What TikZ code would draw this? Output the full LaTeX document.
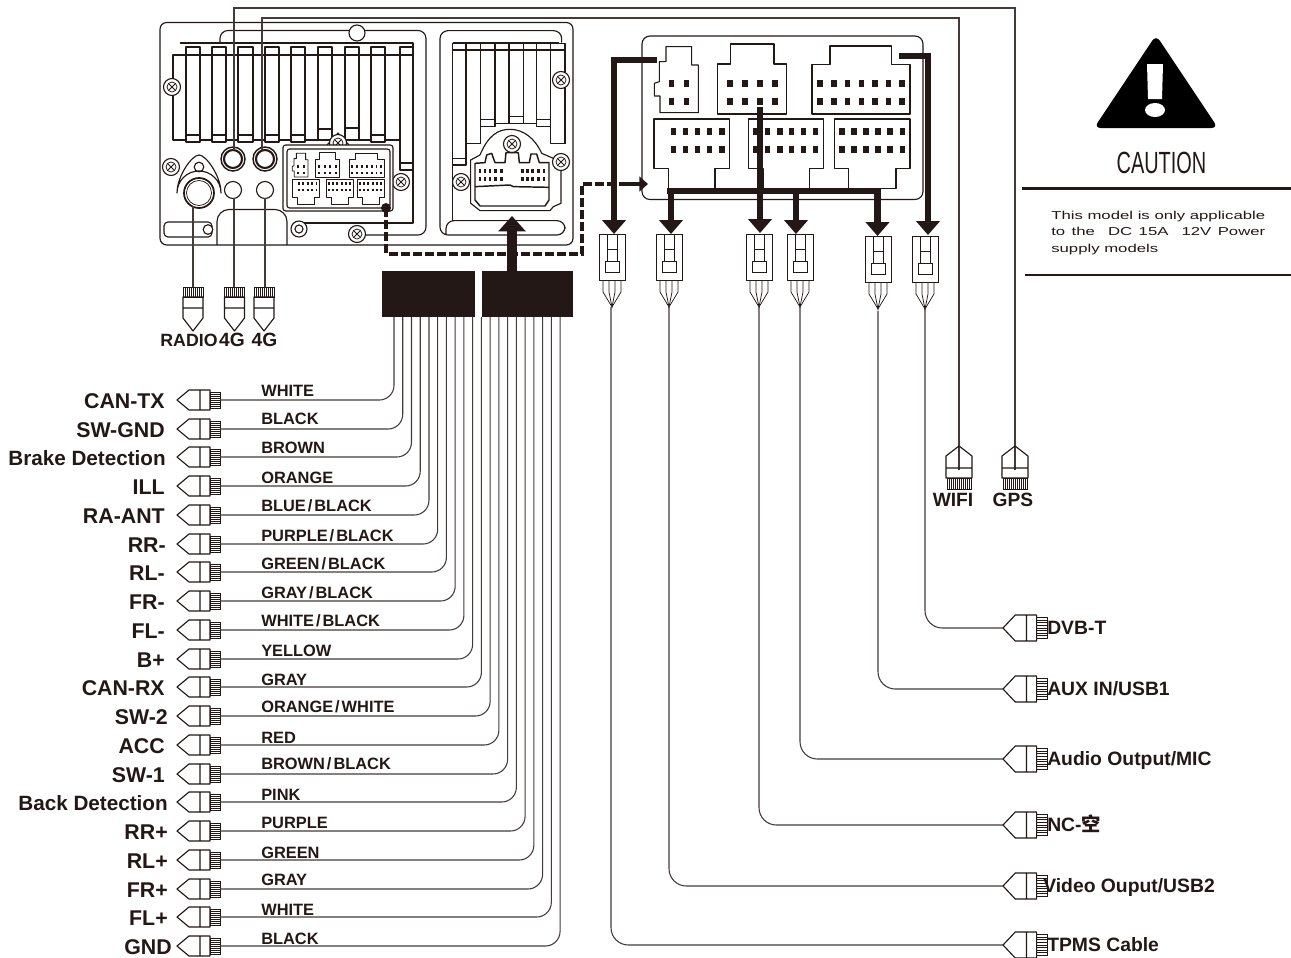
\documentclass[tikz,border=0pt]{standalone}
\usepackage{fontspec}
\setmainfont{Liberation Sans}
\newfontfamily\cjkfont{Noto Sans CJK SC}
\newfontfamily\widefont[FakeStretch=1.46]{Liberation Sans}
\usetikzlibrary{arrows.meta}
\definecolor{ink}{HTML}{231815}
\tikzset{
  part/.style={draw=ink,line width=0.85pt,line join=round},
  thinpart/.style={draw=ink,line width=0.55pt},
  wire/.style={draw=ink!85,line width=0.8pt,rounded corners=11pt},
  bigarrow/.style={draw=ink,line width=5.2pt,-{Triangle[length=10.5pt,width=17.5pt]}},
  dashwire/.style={draw=ink,line width=3pt,dash pattern=on 6.75pt off 2.25pt},
  colourlabel/.style={anchor=base west,inner sep=0pt,text=ink,font=\fontsize{12.3}{14}\selectfont\bfseries},
  pinlabel/.style={anchor=base east,inner sep=0pt,text=ink},
  outlabel/.style={anchor=base west,inner sep=0pt,text=ink,font=\fontsize{14.5}{16}\selectfont\bfseries},
  antlabel/.style={anchor=base,inner sep=0pt,text=ink,font=\fontsize{14.4}{16}\selectfont\bfseries},
}
\newcommand\tightwords[1]{{\spaceskip=.12em\relax #1}}
\newcommand\screw[2]{%
  \begin{scope}[shift={(#1,#2)}]
    \draw[part,fill=white] (0,0) circle (8.5);
    \draw[thinpart] (0,0) circle (5);
    \draw[thinpart] (-3.5,-3.5)--(3.5,3.5) (-3.5,3.5)--(3.5,-3.5);
  \end{scope}}
\newcommand\sideplug[4]{% tip x, y, xscale, yscale
  \begin{scope}[shift={(#1,#2)},xscale=#3,yscale=#4]
    \draw[part] (0,0)--(12,-10)--(33,-10)--(33,10)--(12,10)--cycle (23,-10)--(23,10);
    \draw[thinpart] (33,-8) rectangle (43,8);
    \foreach \t in {-6,-4,...,6} \draw[thinpart] (33,\t)--(43,\t);
  \end{scope}}
\newcommand\upplug[2]{% centre x, top y of teeth (points down)
  \begin{scope}[shift={(#1,#2)}]
    \draw[thinpart] (-10,0) rectangle (10,10);
    \foreach \t in {-8,-6,...,8} \draw[thinpart] (\t,0)--(\t,10);
    \draw[part] (-10,10)--(10,10)--(10,31)--(0,44)--(-10,31)--cycle (-10,21)--(10,21);
  \end{scope}}
\newcommand\downplug[2]{% centre x, tip y (points up)
  \begin{scope}[shift={(#1,#2)}]
    \draw[part] (0,0)--(13,10)--(13,32)--(-13,32)--(-13,10)--cycle (-13,22)--(13,22);
    \draw[thinpart] (-12,32) rectangle (12,43);
    \foreach \t in {-10,-8,...,10} \draw[thinpart] (\t,32)--(\t,43);
  \end{scope}}
\newcommand\harness[2]{% centre x, top y
  \begin{scope}[shift={(#1,#2)}]
    \draw[draw=ink,line width=0.75pt] (-13,0) rectangle (13,46);
    \draw[draw=ink,line width=0.75pt] (-5,0)--(-5,27) (5,0)--(5,27) (-5,15)--(5,15);
    \draw[draw=ink,line width=0.75pt] (-7,27) rectangle (7,38);
    \draw[thinpart] (-9,46)--(-9,58)--(0,73)--(9,58)--(9,46);
    \draw[thinpart] (-3,46)--(-3,58)--(0,73)--(3,58)--(3,46);
  \end{scope}}
\newcommand\connectorset{%
  \draw[part] (228,80)--(305,80)--(305,135)--(325,135)--(325,278)--(210,278)--(210,228)--(193,228)--(193,190)--(208,185)--(208,125)--(228,125)--cycle;
  \draw[part] (422,72)--(552,72)--(552,132)--(590,132)--(590,282)--(383,282)--(383,132)--(422,132)--cycle;
  \draw[part] (720,78)--(905,78)--(905,133)--(960,133)--(960,282)--(666,282)--(666,133)--(720,133)--cycle;
  \draw[part] (192,297)--(418,297)--(418,445)--(375,445)--(375,505)--(236,505)--(236,445)--(192,445)--cycle;
  \draw[part] (475,297)--(701,297)--(701,445)--(658,445)--(658,505)--(519,505)--(519,445)--(475,445)--cycle;
  \draw[part] (734,297)--(960,297)--(960,445)--(918,445)--(918,505)--(776,505)--(776,445)--(734,445)--cycle;
  \foreach \yy in {190,245} {
    \foreach \xx in {245,290,420,465,510,555,690,732,773,814,855,896,936}
      \fill[ink] (\xx-8,\yy-11) rectangle (\xx+8,\yy+11);
  }
  \foreach \yy in {335,388} {
    \foreach \xx in {250,287,323,358,396,497,533,570,605,641,677,756,792,828,864,900,937}
      \fill[ink] (\xx-8,\yy-11) rectangle (\xx+8,\yy+11);
  }}
\begin{document}
\begin{tikzpicture}[x=0.75pt,y=-0.75pt]
\useasboundingbox (0,0) rectangle (1291,957);
\fill[white] (0,0) rectangle (1291,957);

% ---------- head unit, outer case
\draw[part,rounded corners=5pt] (160,22.5) rectangle (573,245);
% left inner frame
\draw[part,rounded corners=6pt] (220,43)--(220,30.5)--(426,30.5)--(426,235)--(365,235);
\draw[part,fill=white] (357,33) circle (8);
\draw[part] (180,43)--(413,43)--(413,223)--(298,223);
\draw[part] (186,55)--(173,55)--(173,140)--(400,140);
\foreach \a/\b/\bot/\bar in {186/200/142/135,212/226/142/135,238/253/142/135,265/279/142/135,291/305/142/135,318/332/140/129,345/359/140/128,371/385/142/135,400/413/170/163}{
  \draw[part,fill=white] (\a,47) rectangle (\b,\bot);
  \draw[part] (\a,\bar)--(\b,\bar);
}
\draw[part] (173,55)--(413,55);
\screw{172}{87}\screw{171}{167}\screw{401}{182}\screw{357}{234}
\draw[part,fill=white] (299,229) circle (8);
\draw[part] (299,229) circle (4);
% antenna sockets
\foreach \c in {233,265}{
  \draw[draw=ink,line width=1.1pt] (\c,159) circle (12);
  \draw[draw=ink,line width=1.6pt] (\c,159) circle (9);
  \draw[part] (\c,190) circle (8.5);
}
% radio socket
\draw[part] (199,155) .. controls (206,155) and (221,176) .. (221,193) arc (0:-180:22) .. controls (177,176) and (192,155) .. (199,155)--cycle;
\draw[draw=ink,line width=1.3pt] (199,193) circle (15);
\draw[thinpart] (199,193) circle (12.5);
\draw[part] (199,167) circle (4.8);
\draw[part,rounded corners=3pt] (164,222) rectangle (212,237);
\draw[part,fill=white] (208,229.5) circle (4.8);
\draw[part,rounded corners=9pt] (217,245)--(217,209.5)--(287,209.5)--(287,245);
% connector tab and group, left panel
\draw[part,fill=white] (327,145)--(338,133)--(349,145);
\screw{338}{143}
\draw[part,fill=white,rounded corners=2pt] (283,145) rectangle (393,211);
\draw[part,rounded corners=2pt] (287,149) rectangle (390,208);
\begin{scope}[shift={(269,143.6)},scale=0.12]
  \tikzset{part/.style={draw=ink,line width=0.6pt,line join=round}}
  \connectorset
\end{scope}

% right inner panel (coordinates of zoomed crop)
\begin{scope}[shift={(430,0)},scale=0.3333]
  \draw[part,rounded corners=6pt] (395,128)--(395,92)--(30,92)--(30,705)--(405,705)--(405,662)--(48,662)--(48,705);
  \draw[part] (68,128)--(388,128);
  \draw[part] (68,128)--(68,662);
  \draw[part] (68,150)--(405,150)--(405,430)--(362,430);
  \foreach \a/\b/\bot/\bar in {68/108/495/475,110/152/430/430,152/195/380/358,195/237/370/370,237/280/370/350,280/320/370/370,320/362/380/358,362/405/430/430}{
    \draw[part] (\a,130) rectangle (\b,\bot);
    \draw[part] (\a,\bar)--(\b,\bar);
  }
  \draw[part,fill=white] (122,480)--(150,465) .. controls (175,405) and (205,388) .. (240,388) .. controls (280,388) and (315,415) .. (335,460)--(370,475)--(393,490)--(393,610)--(370,620)--(360,632)--(150,632)--(135,620)--(122,610)--cycle;
  \draw[part,line width=1.1pt] (135,490)--(165,488)--(170,465)--(185,460)--(195,488)--(225,488)--(228,458)--(265,458)--(268,488)--(298,488)--(303,462)--(320,462)--(328,488)--(357,488)--(357,600)--(345,618)--(150,618)--(135,600)--cycle;
  \draw[part,line width=1.1pt] (135,560)--(240,555)--(250,560)--(357,562);
  \foreach \yy in {513,538} \foreach \xx in {150,165,180,197,215,277,293,308,325,342}
    \fill[ink] (\xx-4,\yy-6) rectangle (\xx+4,\yy+6);
\end{scope}
\screw{561}{80}\screw{561}{162}\screw{461}{182}\screw{512}{144}

% ---------- right connector panel
\draw[part,rounded corners=6pt] (642,36) rectangle (923,199.5);
\begin{scope}[shift={(590,20)},scale=0.3333]
  \connectorset
\end{scope}

% ---------- harness block
\fill[ink] (382,271) rectangle (475,317);
\fill[ink] (482,271) rectangle (573,317);
\coordinate (blockarrow) at (512,271);
\coordinate (panelarrow) at (512,216);
\draw[draw=ink,line width=7.5pt,-{Triangle[length=11.5pt,width=20pt]}] (blockarrow)--(panelarrow);

% dashed link
\coordinate (dashstart) at (386,208);
\coordinate (dashend) at (648,184);
\fill[ink] (dashstart) circle (5);
\draw[dashwire] (dashstart)--(386,253.5)--(582,253.5)--(582,184)--(630,184);
\draw[draw=ink,line width=3pt,-{Triangle[length=6.5pt,width=11pt]}] (628,184)--(dashend);

% ---------- upper antenna wires
\coordinate (gpssock) at (234,150);
\coordinate (wifisock) at (262,150);
\coordinate (gpsplug) at (1015,470);
\coordinate (wifiplug) at (959,470);
\draw[draw=ink!85,line width=0.9pt] (gpssock)--(234,8)--(1015,8)--(gpsplug);
\draw[draw=ink!85,line width=0.9pt] (wifisock)--(262,18)--(959,18)--(wifiplug);
\downplug{959}{446}\downplug{1015}{446}
\node[antlabel] (wifilab) at (953,506) {WIFI};
\node[antlabel] (gpslab) at (1013,506) {GPS};

% ---------- lower antenna plugs
\upplug{193}{287}\upplug{234.5}{287}\upplug{264}{287}
\draw[draw=ink!85,line width=0.8pt] (193,206)--(193,287) (234,198)--(234,287) (265,198)--(265,287);
\node[antlabel,font=\fontsize{13.3}{16}\selectfont\bfseries] (radiolab) at (189,346) {RADIO};
\node[antlabel] (ga) at (232,346) {4G};
\node[antlabel] (gb) at (264.5,346) {4G};

% ---------- left plugs, wires and labels
\foreach \lab/\rx/\ps/\col/\cy [count=\i from 0] in {
 CAN-TX/165/16/WHITE/390,SW-GND/165/16/BLACK/418,{Brake Detection}/166/15.5/BROWN/447,ILL/165/16/ORANGE/477,
 RA-ANT/165/16/{BLUE / BLACK}/505,RR-/166/16/{PURPLE / BLACK}/535,RL-/165/16/{GREEN / BLACK}/563,FR-/165/16/{GRAY / BLACK}/592,
 FL-/165/16/{WHITE / BLACK}/620,B+/165/16/YELLOW/650,CAN-RX/165/16/GRAY/679,SW-2/168/16/{ORANGE / WHITE}/706,
 ACC/165/16/RED/737,SW-1/165/16/{BROWN / BLACK}/763,{Back Detection}/168/15.5/PINK/794,RR+/168/16/PURPLE/822,
 RL+/168/16/GREEN/852,FR+/168/16/GRAY/879,FL+/168/16/WHITE/909,GND/172/16/BLACK/938}{
  \pgfmathsetmacro\wy{round(400+\i*28.74)}
  \pgfmathsetmacro\wx{394+\i*8.74}
  \sideplug{177}{\wy}{1}{1}
  \coordinate (top\i) at (\wx,317);
  \coordinate (end\i) at (220,\wy);
  \draw[wire] (top\i)|-(end\i);
  \node[pinlabel,font=\fontsize{\ps}{18}\selectfont\bfseries] (pin\i) at (\rx,\wy+8.5) {\lab};
  \node[colourlabel] (col\i) at (261,\cy+6) {\tightwords{\col}};
}

% ---------- top harness plugs and thick arrows
\harness{612}{234}\harness{669}{234}\harness{759}{234}\harness{800}{234}\harness{878}{236}\harness{925}{236}
\coordinate (busL) at (667,191);
\coordinate (busR) at (881,191);
\draw[draw=ink,line width=5.2pt] (busL)--(busR);
\draw[bigarrow] (657,60)--(614,60)--(614,234);
\draw[bigarrow] (671,189)--(671,234);
\draw[bigarrow] (760,107)--(760,233);
\draw[bigarrow] (796,191)--(796,234);
\draw[bigarrow] (877.5,189)--(877.5,236);
\draw[bigarrow] (899,56)--(928,56)--(928,235);

% ---------- right plugs, wires and labels
\foreach \px/\tp/\wy/\lab/\lx [count=\i] in {
 925/309/628/DVB-T/1047,
 878/311/689/{AUX IN/USB1}/1047,
 800/307/759/{Audio Output/MIC}/1047,
 759/307/825/{NC-{\cjkfont 空}}/1047,
 669/307/886/{Video Ouput/USB2}/1043,
 611/307/945/{TPMS Cable}/1047}{
  \sideplug{1003}{\wy}{1.02}{1.3}
  \coordinate (hs\i) at (\px,\tp);
  \coordinate (pl\i) at (1003,\wy);
  \draw[wire,rounded corners=13pt] (hs\i)|-(pl\i);
  \node[outlabel] (out\i) at (\lx,\wy+6.5) {\lab};
}

% ---------- caution block
\fill[black,rounded corners=5pt] (1156,35)--(1218,128)--(1094,128)--cycle;
\fill[white] (1147,64)--(1163,64)--(1162,99)--(1148,99)--cycle;
\fill[white] (1155,110) ellipse (10 and 7);
\node[inner sep=0pt,text=ink,font=\fontsize{23}{26}\selectfont] (caution) at (1161.5,163) {\scalebox{.65}[1]{CAUTION}};
\draw[draw=ink,line width=1.9pt] (1022,188.5)--(1291,188.5);
\draw[draw=ink,line width=1.9pt] (1025,275)--(1291,275);
\node[anchor=north west,inner sep=0pt,text=ink,align=left,font=\widefont\fontsize{8.6}{12.3}\selectfont] (note) at (1051,211)
 {\makebox[160.5pt][s]{This model is only applicable}\\ \makebox[160.5pt][s]{to the\ \ DC 15A\ \ 12V Power}\\ supply models};
\end{tikzpicture}
\end{document}
